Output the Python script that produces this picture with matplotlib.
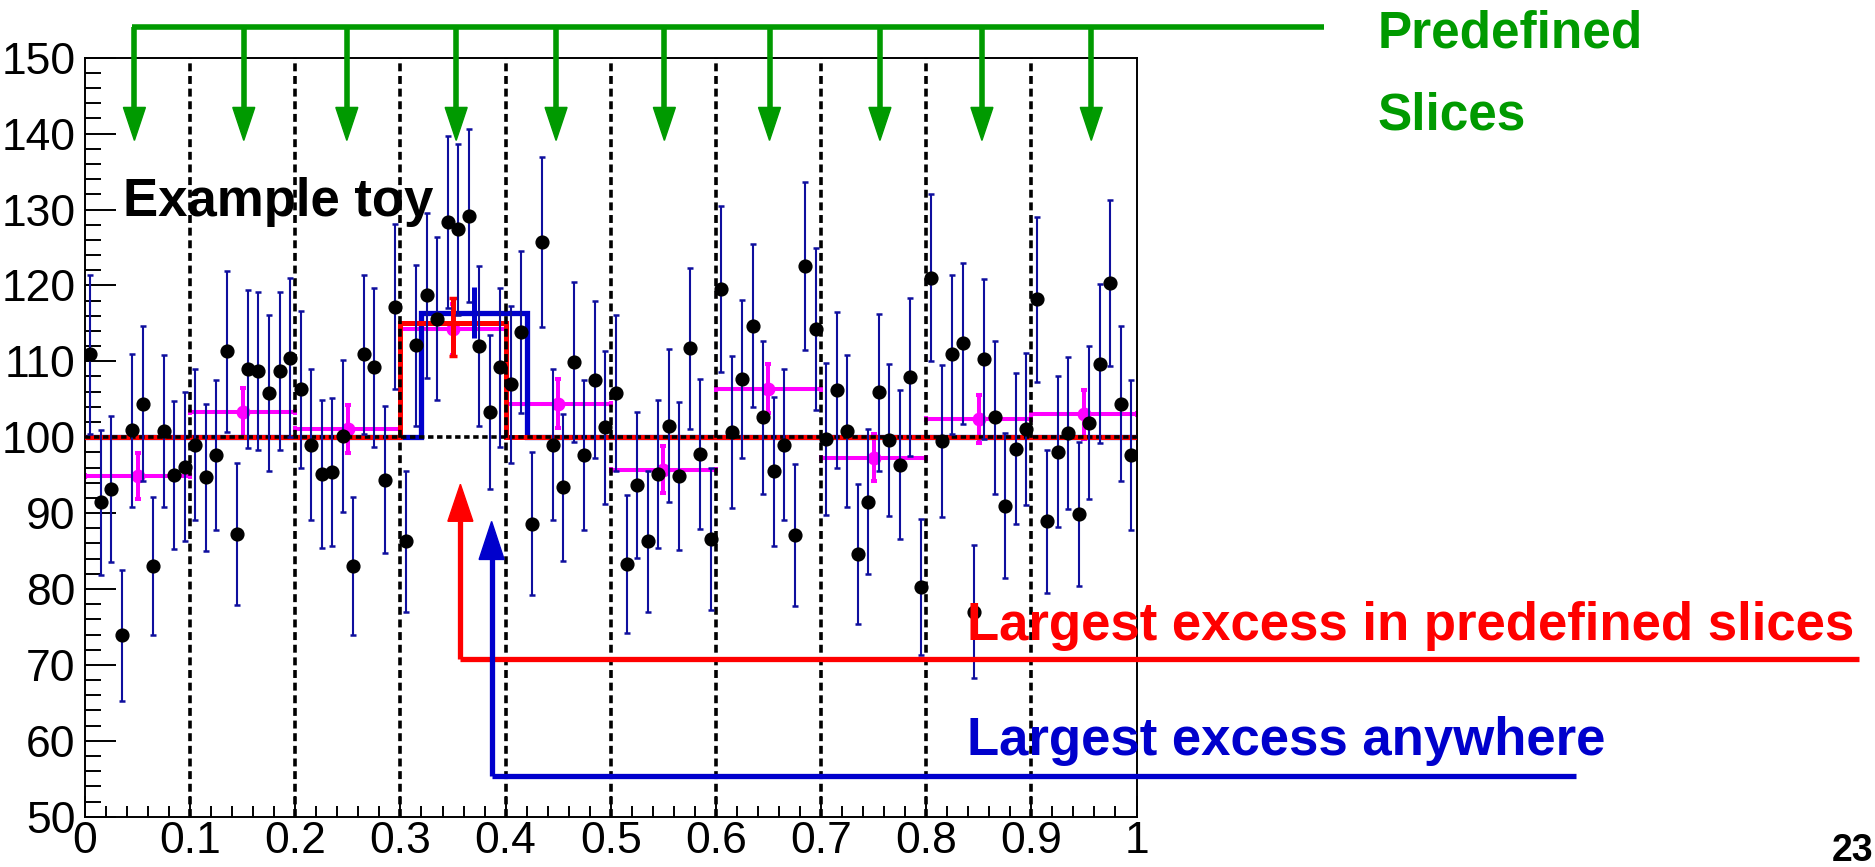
import numpy as np
import matplotlib
matplotlib.use('Agg')
import matplotlib.pyplot as plt
from matplotlib.patches import Polygon
from matplotlib.ticker import MultipleLocator

plt.rcParams['font.family'] = ['Liberation Sans', 'DejaVu Sans']

# toy histogram: 100 bins on [0, 1]
counts = [
    110.9, 91.4, 93.2, 73.9, 100.9, 104.4, 83.0, 100.8, 95.0, 96.1,
    99.0, 94.7, 97.7, 111.3, 87.3, 109.0, 108.7, 105.8, 108.7, 110.5,
    106.3, 99.0, 95.2, 95.4, 100.2, 83.0, 110.9, 109.2, 94.4, 117.2,
    86.3, 112.1, 118.7, 115.6, 128.3, 127.4, 129.2, 112.0, 103.3, 109.2,
    107.0, 113.9, 88.6, 125.7, 99.0, 93.4, 109.9, 97.7, 107.6, 101.3,
    105.8, 83.3, 93.7, 86.3, 95.2, 101.5, 94.9, 111.7, 97.8, 86.6,
    119.5, 100.7, 107.7, 114.7, 102.6, 95.5, 99.0, 87.1, 122.5, 114.3,
    99.8, 106.2, 100.8, 84.6, 91.5, 105.9, 99.6, 96.4, 107.9, 80.3,
    121.0, 99.5, 110.9, 112.4, 77.0, 110.3, 102.6, 91.0, 98.5, 101.1,
    118.2, 88.9, 98.1, 100.6, 89.9, 101.9, 109.7, 120.3, 104.4, 97.7,
]
background = 100.0

# averages in the ten predefined slices
slice_edges = [0.0, 0.1, 0.2, 0.3, 0.4, 0.5, 0.6, 0.7, 0.8, 0.9, 1.0]
slice_means = [94.9, 103.3, 101.1, 114.2, 104.4, 95.7, 106.4, 97.3, 102.4, 103.0]
x_labels = ['0', '0.1', '0.2', '0.3', '0.4', '0.5', '0.6', '0.7', '0.8', '0.9', '1']

# where the green "slice" arrows point
slice_arrow_x = [0.047, 0.151, 0.249, 0.353, 0.448, 0.551, 0.651, 0.756, 0.853, 0.957]

# largest excess in a predefined slice (red) and anywhere (blue)
red_window = (0.30, 0.40)
red_level = 115.1
red_point = (0.35, 114.5, 3.8)
blue_window = (0.32, 0.42)
blue_level = 116.4
blue_point = (0.37, 116.45, 3.35)

green = '#009a00'
red = '#ff0000'
blue = '#0000cc'

fig = plt.figure(figsize=(18.75, 8.67), dpi=100)
ax = fig.add_axes([85 / 1875, 50.3 / 867, 1051.5 / 1875, 759 / 867])

edges = np.linspace(0, 1, len(counts) + 1)
centers = 0.5 * (edges[:-1] + edges[1:])
counts = np.array(counts)

# slice boundaries
for xe in slice_edges[1:-1]:
    ax.axvline(xe, color='black', lw=2.6, ls=(0, (2.2, 1.3)), zorder=5)


def step(window, level):
    lo, hi = window
    return [0, lo, lo, hi, hi, 1], [background, background, level, level, background, background]


bx, by = step(blue_window, blue_level)
ax.plot(bx, by, color=blue, lw=3.8, zorder=3, solid_joinstyle='miter')
rx, ry = step(red_window, red_level)
ax.plot(rx, ry, color=red, lw=3.6, zorder=4, solid_joinstyle='miter')
ax.plot([0, 1], [background, background], color='black', lw=2.6,
        ls=(0, (1.5, 1.0)), zorder=5)

# slice averages
s_lo = np.array(slice_edges[:-1])
s_hi = np.array(slice_edges[1:])
s_mean = np.array(slice_means)
ax.errorbar(0.5 * (s_lo + s_hi), s_mean, xerr=0.5 * (s_hi - s_lo),
            yerr=np.sqrt(s_mean / 10), fmt='o', color='#ff00ff', ms=9,
            lw=2.9, capsize=2.5, capthick=2.9, zorder=2)

ax.errorbar(blue_point[0], blue_point[1], yerr=blue_point[2], fmt='none',
            ecolor=blue, lw=3.6, capsize=0, zorder=6)
ax.errorbar(red_point[0], red_point[1], yerr=red_point[2], fmt='none',
            ecolor=red, lw=3.6, capsize=3, capthick=2.5, zorder=6)

# toy data
ax.errorbar(centers, counts, yerr=np.sqrt(counts), fmt='o', color='black',
            ms=9.2, ecolor='#0f0f9e', elinewidth=1.5, capsize=2.2,
            capthick=1.8, zorder=7)

ax.set_xlim(0, 1)
ax.set_ylim(50, 150)
ax.set_xticks(np.linspace(0, 1, len(x_labels)))
ax.set_xticklabels(x_labels)
ax.xaxis.set_minor_locator(MultipleLocator(0.02))
ax.yaxis.set_major_locator(MultipleLocator(10))
ax.yaxis.set_minor_locator(MultipleLocator(2))
ax.tick_params(axis='both', which='both', direction='in', labelsize=32,
               width=1.4)
ax.tick_params(axis='y', which='major', length=22, pad=7)
ax.tick_params(axis='y', which='minor', length=11.5)
ax.tick_params(axis='x', which='major', length=15, pad=3)
ax.tick_params(axis='x', which='minor', length=7.7)
for sp in ax.spines.values():
    sp.set_linewidth(1.4)

px_x = 1.0 / 1051.5
px_y = 100.0 / 759


def vertical_arrow(x, y_start, y_tip, color, lw, head_w, head_l):
    sign = 1 if y_tip > y_start else -1
    y_base = y_tip - sign * head_l * px_y
    ax.plot([x, x], [y_start, y_base], color=color, lw=lw, clip_on=False,
            solid_capstyle='butt', zorder=9)
    head = Polygon([[x - head_w / 2 * px_x, y_base], [x + head_w / 2 * px_x, y_base],
                    [x, y_tip]], closed=True, color=color, clip_on=False, zorder=9)
    ax.add_patch(head)


# green slice markers along the top
top_y = 154.1
ax.plot([slice_arrow_x[0] - 2 * px_x, 1.178], [top_y, top_y], color=green,
        lw=4.0, clip_on=False, solid_capstyle='butt', zorder=9)
for xa in slice_arrow_x:
    vertical_arrow(xa, top_y, 139.1, green, 4.0, 22, 33)

ax.text(1.229, 151.3, 'Predefined', color=green, fontsize=37,
        fontweight='bold', clip_on=False)
ax.text(1.229, 140.5, 'Slices', color=green, fontsize=37,
        fontweight='bold', clip_on=False)

ax.text(0.0357, 129.1, 'Example toy', color='black', fontsize=38,
        fontweight='bold', zorder=10)

# red / blue pointers
red_y = 70.8
ax.plot([0.357, 1.687], [red_y, red_y], color=red, lw=3.8, clip_on=False,
        solid_capstyle='butt', zorder=9)
vertical_arrow(0.357, red_y, 93.8, red, 3.8, 25, 37)
ax.text(0.839, 73.3, 'Largest excess in predefined slices', color=red,
        fontsize=38, fontweight='bold', zorder=10)

blue_y = 55.3
ax.plot([0.3867, 1.418], [blue_y, blue_y], color=blue, lw=3.8, clip_on=False,
        solid_capstyle='butt', zorder=9)
vertical_arrow(0.3867, blue_y, 88.9, blue, 3.8, 25, 38)
ax.text(0.839, 58.1, 'Largest excess anywhere', color=blue, fontsize=38,
        fontweight='bold', zorder=10)

fig.text(0.999, 0.007, '23', ha='right', va='baseline', fontsize=27,
         fontweight='bold')

fig.savefig('out.png', dpi=100)
